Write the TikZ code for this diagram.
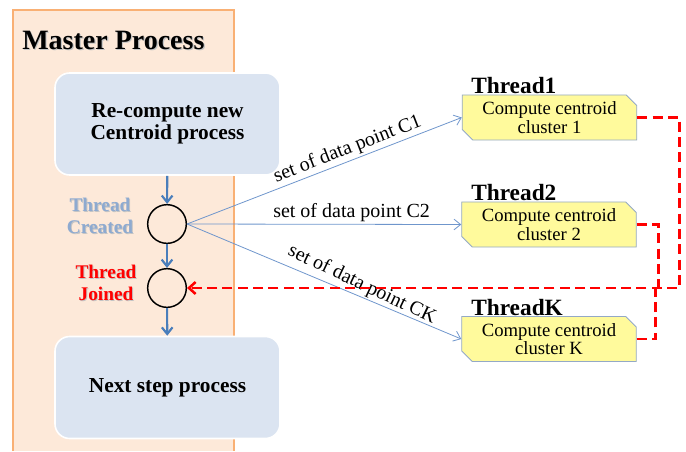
\documentclass[tikz,border=0pt]{standalone}
\usepackage{fontspec}
\setmainfont{Liberation Serif}
\usetikzlibrary{arrows.meta,shapes.misc,calc}

\definecolor{panelfill}{HTML}{FDE9D9}
\definecolor{panelline}{HTML}{F9B074}
\definecolor{stepfill}{HTML}{DBE4F1}
\definecolor{flowblue}{HTML}{4A7EBB}
\definecolor{linkblue}{HTML}{6F96CC}
\definecolor{threadfill}{HTML}{FFFA9C}
\definecolor{threadline}{HTML}{94A9C6}
\definecolor{createdblue}{HTML}{8EAAD0}
\definecolor{joinred}{HTML}{FF0000}
\definecolor{softshadow}{HTML}{C4C4C4}

\tikzset{
  stepbox/.style={draw=white, line width=1.2pt, fill=stepfill, rounded corners=11pt,
    minimum width=168.75pt, minimum height=76.5pt, align=center,
    font=\bfseries\fontsize{16}{16.5}\selectfont},
  joint/.style={circle, draw=black, line width=1.1pt, minimum size=29pt, inner sep=0pt},
  flow/.style={draw=flowblue, line width=1.6pt, -{Straight Barb[length=5pt,width=8pt]}},
  link/.style={draw=linkblue, line width=0.6pt, -{Straight Barb[length=5pt,width=8pt]}},
  joinline/.style={draw=joinred, line width=1.9pt, dash pattern=on 7.5pt off 4pt},
  threadbox/.style={chamfered rectangle, chamfered rectangle corners={north east,south west},
    chamfered rectangle xsep=4pt, chamfered rectangle ysep=4pt,
    draw=threadline, line width=0.6pt, fill=threadfill,
    minimum width=131pt, minimum height=30.5pt, inner sep=1pt, align=center,
    font=\fontsize{14}{14}\selectfont},
  threadtitle/.style={anchor=west, inner sep=0pt, font=\bfseries\fontsize{17.5}{18}\selectfont},
  linklabel/.style={font=\fontsize{15}{16}\selectfont, inner sep=1.5pt},
  sidelabel/.style={align=center, inner sep=0pt, font=\bfseries\fontsize{14.5}{16.5}\selectfont},
}

\begin{document}
\begin{tikzpicture}[x=0.75pt,y=-0.75pt]
\useasboundingbox (0,0) rectangle (686,451);

% master process panel
\fill[panelfill] (13,10) rectangle (234,451);
\draw[panelline, line width=1pt] (13,451) -- (13,10) -- (234,10) -- (234,451);
\node[anchor=west, inner sep=0pt, text=softshadow, font=\bfseries\fontsize{21}{22}\selectfont] (titleshade) at (23.2,41.2) {Master Process};
\node[anchor=west, inner sep=0pt, font=\bfseries\fontsize{21}{22}\selectfont] (title) at (22,40) {Master Process};

% process steps
\node[stepbox] (recompute) at (167.5,124) {Re-compute new\\Centroid process};
\node[stepbox] (nextstep) at (167.5,387.5) {Next step process};

% thread create / join points
\node[joint] (created) at (167,224) {};
\node[joint] (joined) at (167,288) {};

\node[sidelabel, text=softshadow] (createdshade) at (101,217) {Thread\\Created};
\node[sidelabel, text=createdblue] (createdlabel) at (100,216) {Thread\\Created};
\node[sidelabel, text=softshadow] (joinedshade) at (107,284) {Thread\\Joined};
\node[sidelabel, text=joinred] (joinedlabel) at (106,283) {Thread\\Joined};

\draw[flow] (recompute) -- (created);
\draw[flow] (created) -- (joined);
\draw[flow] (joined) -- (nextstep);

% worker threads
\node[threadbox] (t1) at (549.5,117.5) {Compute centroid\\cluster 1};
\node[threadbox] (t2) at (549,224.5) {Compute centroid\\cluster 2};
\node[threadbox] (tk) at (549,339) {Compute centroid\\cluster K};

\node[threadtitle] (t1title) at (471,86) {Thread1};
\node[threadtitle] (t2title) at (471,193) {Thread2};
\node[threadtitle] (tktitle) at (471,308) {ThreadK};

% data sent to each thread
\draw[link] (created.east) -- (t1.west)
  node[linklabel, pos=0.6, sloped, above] (c1label) {set of data point C1};
\draw[link] (created.east) -- (t2.west)
  node[linklabel, pos=0.6, above] (c2label) {set of data point C2};
\draw[link] (created.east) -- (tk.west)
  node[linklabel, pos=0.62, sloped, above, rotate=-2.5] (cklabel) {set of data point CK};

% results returned to the join point
\draw[joinline, -{Straight Barb[length=5pt,width=9pt]}] (t1.east) -- ++(42,0) coordinate (r1) |- (joined.east);
\draw[joinline] (t2.east) -- ++(22,0) coordinate (r2) -- (r2 |- joined.east);
\draw[joinline] (tk.east) -- ++(19,0) coordinate (rk) -- (rk |- joined.east);
\end{tikzpicture}
\end{document}
